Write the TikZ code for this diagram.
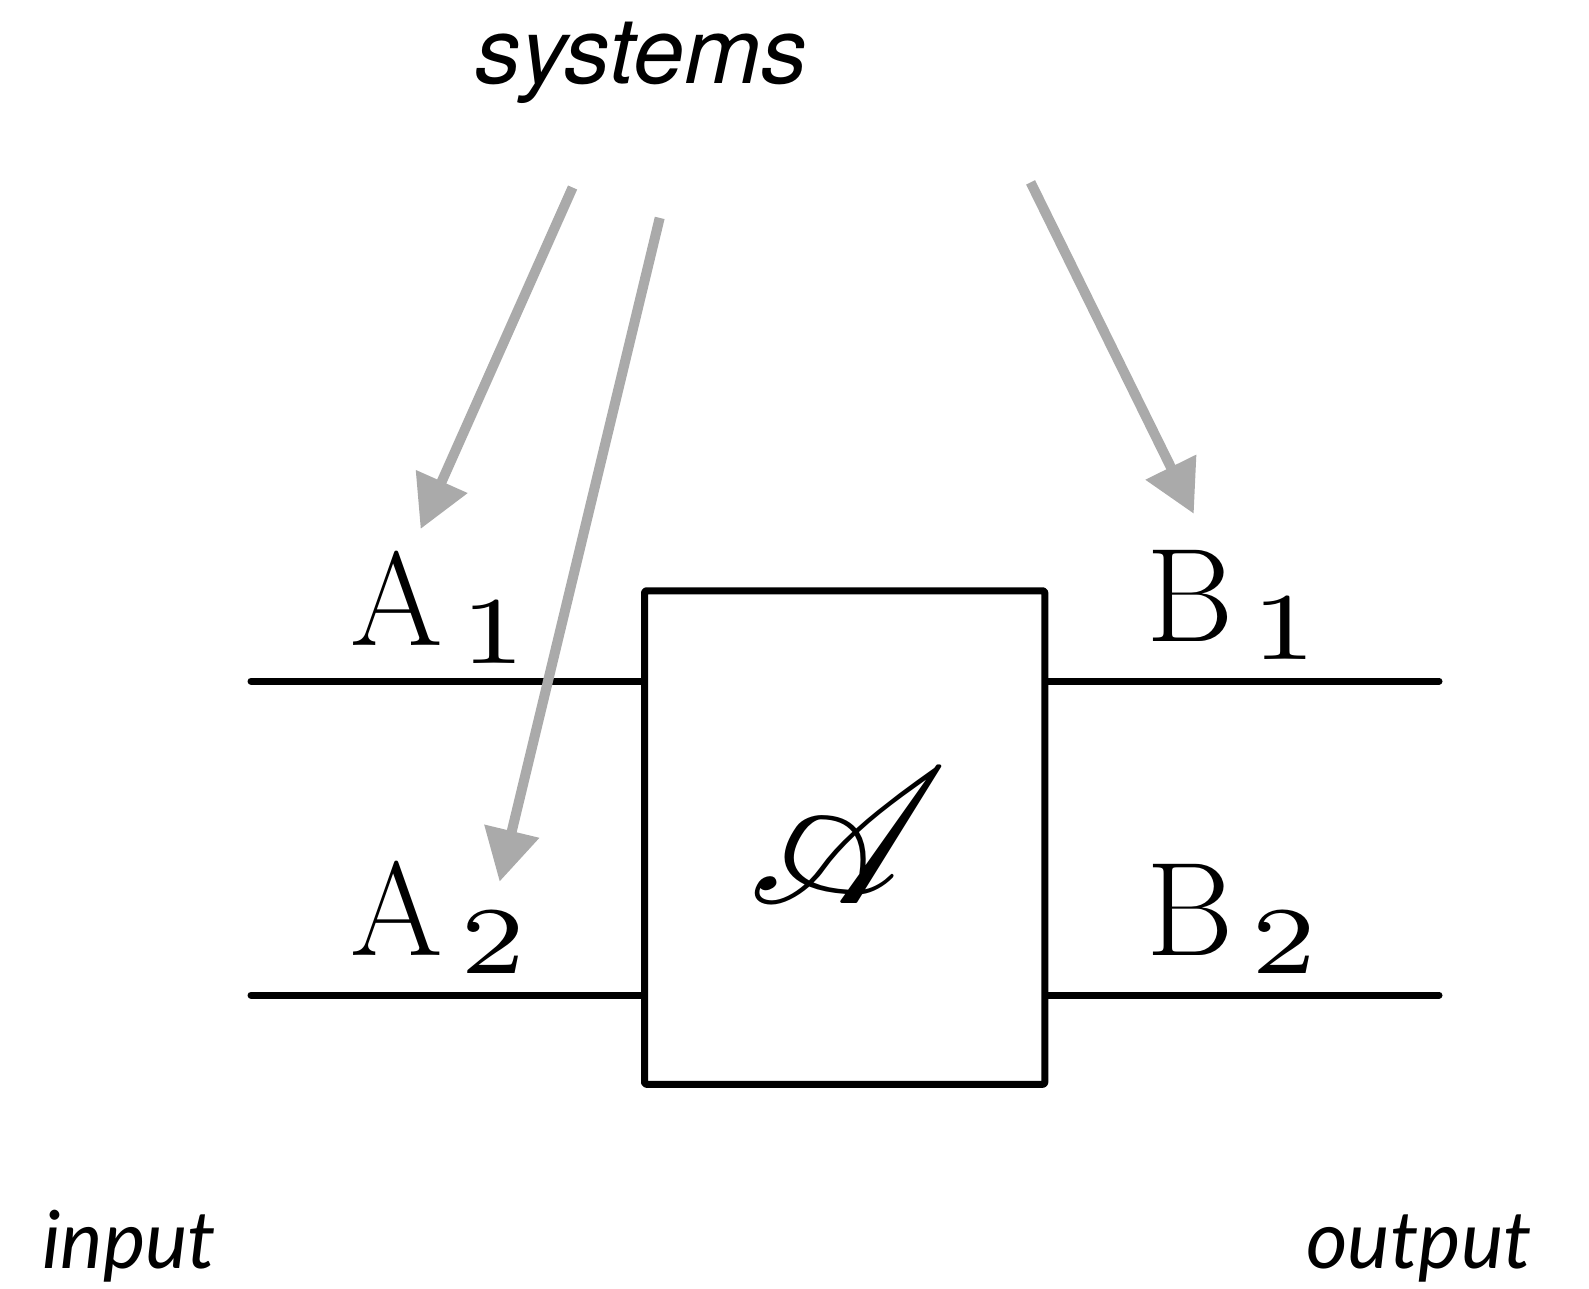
\documentclass[tikz,border=0pt]{standalone}
\usepackage{fontspec}
\usepackage{mathrsfs}
\usetikzlibrary{arrows.meta}
\newfontfamily\herosfont{TeX Gyre Heros}
\newfontfamily\latofont{Lato}
\newfontfamily\lmseven{lmroman7-regular}[Extension=.otf]
\newcommand{\subdigit}[1]{\kern9bp\raisebox{-9bp}{\scalebox{1.2}[1]{\lmseven\fontsize{48}{50}\selectfont #1}}}
\definecolor{sysgray}{HTML}{AAAAAA}
\begin{document}
\begin{tikzpicture}[x=0.5bp,y=-0.5bp,
  wire/.style={line width=3.5bp, black, line cap=round},
  sysarrow/.style={line width=5bp, sysgray, -{Triangle[length=26bp,width=27bp]}},
  lbl/.style={font=\fontsize{67}{80}\selectfont, inner sep=0pt, anchor=base west},
  notelbl/.style={inner sep=0pt, anchor=base}]
\useasboundingbox (0,0) rectangle (1589,1289);
% box
\node[draw, line width=3.5bp, line join=round, rounded corners=1bp, minimum width=200.15bp, minimum height=246.75bp, inner sep=0pt] (box) at (844.65,837.55) {};
\node[inner sep=0pt, font=\fontsize{10}{12}\selectfont, scale=9.7] (chan) at (848,836) {$\mathscr{A}$};
% wire ends
\coordinate (a1end) at (251,681);
\coordinate (a2end) at (251,995);
\coordinate (b1end) at (1439,681);
\coordinate (b2end) at (1439,995);
\draw[wire] (a1end) -- (a1end -| box.west);
\draw[wire] (a2end) -- (a2end -| box.west);
\draw[wire] (b1end -| box.east) -- (b1end);
\draw[wire] (b2end -| box.east) -- (b2end);
% labels
\node[lbl] (A1) at (350,645) {A\subdigit{1}};
\node[lbl] (A2) at (350,955) {A\subdigit{2}};
\node[lbl] (B1) at (1146,641) {B\subdigit{1}};
\node[lbl] (B2) at (1146,955) {B\subdigit{2}};
% texts
\node[notelbl, font=\herosfont\itshape\fontsize{46bp}{55bp}\selectfont] (sys) at (641,84) {systems};
\node[notelbl, anchor=base west, font=\latofont\itshape\fontsize{40bp}{48bp}\selectfont] (inp) at (42,1268) {input};
\node[notelbl, anchor=base east, font=\latofont\itshape\fontsize{40bp}{48bp}\selectfont] (outp) at (1532,1268) {output};
% arrows
\coordinate (s1) at (572.6,187.5);
\coordinate (t1) at (420.6,529);
\coordinate (s2) at (659.7,217.9);
\coordinate (t2) at (499.6,881.7);
\coordinate (s3) at (1030.6,182.4);
\coordinate (t3) at (1193.8,513.8);
\draw[sysarrow] (s1) -- (t1);
\draw[sysarrow] (s2) -- (t2);
\draw[sysarrow] (s3) -- (t3);
\end{tikzpicture}
\end{document}
